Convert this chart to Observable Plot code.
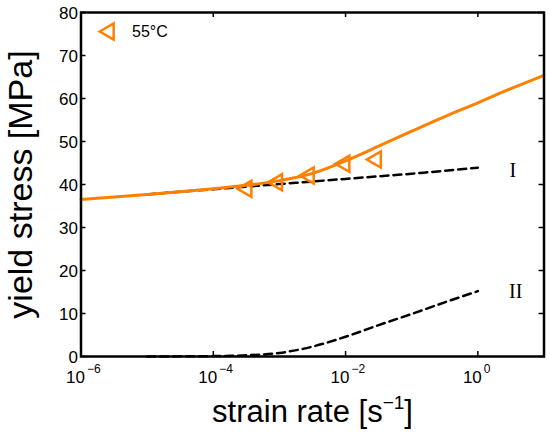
<!DOCTYPE html>
<html><head><meta charset="utf-8">
<script src="https://cdn.jsdelivr.net/npm/d3@7"></script>
<script src="https://cdn.jsdelivr.net/npm/@observablehq/plot@0.6"></script>
<style>body{margin:0;background:#fff}</style>
</head><body><div id="chart"></div>
<script>
// ---- data ----
const xTicks = [1e-6, 1e-4, 1e-2, 1];
const xTickExp = ["\u22126", "\u22124", "\u22122", "0"];
const yTicks = [0, 10, 20, 30, 40, 50, 60, 70, 80];

const fitRate   = [1e-6, 3.16e-6, 1e-5, 3.16e-5, 1e-4, 3.16e-4, 1e-3, 3.16e-3, 1e-2, 3.16e-2, 1e-1, 3.16e-1, 1, 3.16, 10];
const fitStress = [36.5, 37.1, 37.7, 38.3, 39.0, 39.8, 40.9, 42.6, 45.5, 48.9, 52.4, 55.8, 59.0, 62.3, 65.4];

const compRate = [1e-5, 3.16e-5, 1e-4, 3.16e-4, 1e-3, 3.16e-3, 1e-2, 3.16e-2, 1e-1, 3.16e-1, 1];
const procIStress  = [37.7, 38.3, 38.9, 39.5, 40.1, 40.7, 41.3, 41.9, 42.5, 43.2, 43.9];
const procIIStress = [0.0, 0.03, 0.09, 0.27, 0.83, 2.3, 4.6, 7.3, 9.9, 12.6, 15.2];

const expRate   = [3.2e-4, 9.3e-4, 2.8e-3, 9.7e-3, 2.9e-2];
const expStress = [39.0, 40.5, 42.1, 44.8, 45.8];

const legendLabel = "55\u00B0C";
const procLabels = ["I", "II"];
const procLabelX = [3.37, 3.74];
const procLabelY = [43.3, 15.0];

// ---- build ----
const orange = "#ff8000";
const fit = fitRate.map((r, i) => ({r, s: fitStress[i]}));
const pI = compRate.map((r, i) => ({r, s: procIStress[i]}));
const pII = compRate.map((r, i) => ({r, s: procIIStress[i]}));
const exp = expRate.map((r, i) => ({r, s: expStress[i]}));
const labels = procLabels.map((t, i) => ({t, x: procLabelX[i], y: procLabelY[i]}));

const triLeft = {
  draw(ctx, size) {
    const s = Math.sqrt(size * 4 / Math.sqrt(3));
    const a = s * Math.sqrt(3) / 3, b = s * Math.sqrt(3) / 6;
    ctx.moveTo(-a, 0);
    ctx.lineTo(b, -s / 2);
    ctx.lineTo(b, s / 2);
    ctx.closePath();
  }
};

const chart = Plot.plot({
  width: 550, height: 433,
  marginLeft: 80.5, marginRight: 6.5, marginTop: 12, marginBottom: 77,
  style: {fontFamily: "Arial, 'Liberation Sans', sans-serif", background: "white", color: "black"},
  x: {type: "log", domain: [1e-6, 10], axis: null},
  y: {domain: [0, 80], axis: null},
  marks: [
    Plot.ruleX(xTicks, {x: d => d, insetTop: 339, stroke: "black", strokeWidth: 1.5}),
    Plot.ruleX(xTicks, {x: d => d, insetBottom: 339, stroke: "black", strokeWidth: 1.5}),
    Plot.ruleY(yTicks, {y: d => d, insetRight: 458, stroke: "black", strokeWidth: 1.5}),
    Plot.ruleY(yTicks, {y: d => d, insetLeft: 458, stroke: "black", strokeWidth: 1.5}),
    Plot.line(pI, {x: "r", y: "s", stroke: "black", strokeWidth: 2.5, strokeDasharray: "8,5", curve: "catmull-rom"}),
    Plot.line(pII, {x: "r", y: "s", stroke: "black", strokeWidth: 2.5, strokeDasharray: "8,5", curve: "catmull-rom"}),
    Plot.line(fit, {x: "r", y: "s", stroke: orange, strokeWidth: 3, curve: "catmull-rom"}),
    Plot.dot(exp, {x: "r", y: "s", symbol: triLeft, r: 6, stroke: orange, strokeWidth: 2.5, fill: "none"}),
    Plot.frame({stroke: "black", strokeWidth: 2.5}),
    // legend
    Plot.dot([0], {frameAnchor: "top-left", dx: 28, dy: 19, symbol: triLeft, r: 6, stroke: orange, strokeWidth: 2.5, fill: "none"}),
    Plot.text([legendLabel], {frameAnchor: "top-left", dx: 51, dy: 19.7, textAnchor: "start", lineAnchor: "middle", fontSize: 16, fill: "black"}),
    // process labels
    Plot.text(labels, {x: "x", y: "y", text: "t", fontSize: 20, fontFamily: "'Liberation Serif', 'Times New Roman', serif", fill: "black"}),
    // y tick labels
    Plot.text(yTicks, {y: d => d, frameAnchor: "left", dx: -3, dy: 1, textAnchor: "end", lineAnchor: "middle", fontSize: 17, fill: "black"}),
    // x tick labels
    Plot.text(xTicks, {x: d => d, frameAnchor: "bottom", dy: 21.5, dx: -5.5, textAnchor: "middle", lineAnchor: "middle", text: () => "10", fontSize: 17, fill: "black"}),
    Plot.text(xTicks, {x: d => d, frameAnchor: "bottom", dy: 12.5, dx: 6, textAnchor: "start", lineAnchor: "middle", text: (d, i) => xTickExp[i], fontSize: 12, fill: "black"}),
    // axis titles
    Plot.text(["yield stress [MPa]"], {frameAnchor: "left", dx: -60, rotate: -90, textAnchor: "middle", lineAnchor: "middle", fontSize: 34, fill: "black"}),
    Plot.text(["strain rate [s"], {frameAnchor: "bottom", dy: 55.7, textAnchor: "middle", lineAnchor: "middle", fontSize: 31, fill: "black"})
  ]
});

d3.select(chart).selectAll("text").filter(function() { return this.textContent === "strain rate [s"; })
  .each(function() {
    const t = d3.select(this);
    t.text(null);
    t.append("tspan").text("strain rate [s");
    t.append("tspan").attr("dy", -13).attr("font-size", 19).text("\u22121");
    t.append("tspan").attr("dy", 13).text("]");
  });

document.getElementById("chart").appendChild(chart);
</script>
</body></html>
